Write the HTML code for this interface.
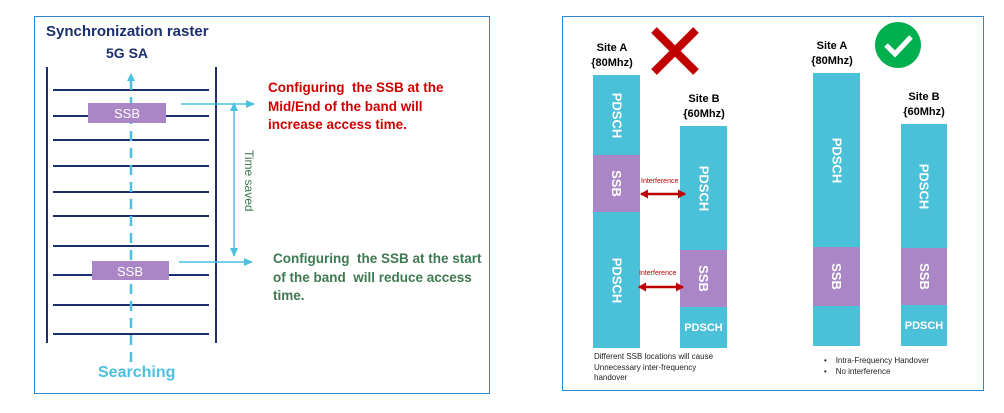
<!DOCTYPE html>
<html><head><style>
body{margin:0;width:1004px;height:413px;background:#fff;position:relative;font-family:"Liberation Sans",sans-serif;overflow:hidden}
.a{position:absolute}
.b{font-weight:bold}
.col{position:absolute;background:#4bc0d9}
.seg{position:absolute;left:0;right:0;color:#fff;font-weight:bold;font-size:13px;display:flex;align-items:center;justify-content:center}
.v span{transform:rotate(90deg);white-space:nowrap;display:block}
.ssb{background:#ab86c6}
</style></head><body>
<div class="a" style="left:34px;top:16px;width:454px;height:376px;border:1.5px solid #2e86d0"></div>
<div class="a" style="left:562px;top:16px;width:420px;height:373px;border:1.5px solid #2e86d0"></div>

<div class="a b" style="left:582px;top:41px;width:60px;text-align:center;font-size:11px;line-height:15px">Site A<br>{80Mhz)</div>
<div class="a b" style="left:674px;top:92px;width:60px;text-align:center;font-size:11px;line-height:15px">Site B<br>{60Mhz)</div>
<div class="a b" style="left:802px;top:39px;width:60px;text-align:center;font-size:11px;line-height:15px">Site A<br>{80Mhz)</div>
<div class="a b" style="left:894px;top:90px;width:60px;text-align:center;font-size:11px;line-height:15px">Site B<br>{60Mhz)</div>

<div class="col" style="left:593px;top:75px;width:47px;height:273px">
<div class="seg v" style="top:0;height:80px"><span>PDSCH</span></div>
<div class="seg v ssb" style="top:80px;height:57px"><span>SSB</span></div>
<div class="seg v" style="top:137px;height:136px"><span>PDSCH</span></div></div>
<div class="col" style="left:680px;top:126px;width:47px;height:222px">
<div class="seg v" style="top:0;height:124px"><span>PDSCH</span></div>
<div class="seg v ssb" style="top:124px;height:57px"><span>SSB</span></div>
<div class="seg" style="top:181px;height:41px;font-size:11px">PDSCH</div></div>
<div class="col" style="left:813px;top:73px;width:47px;height:273px">
<div class="seg v" style="top:0;height:174px"><span>PDSCH</span></div>
<div class="seg v ssb" style="top:174px;height:59px"><span>SSB</span></div></div>
<div class="col" style="left:901px;top:124px;width:46px;height:222px">
<div class="seg v" style="top:0;height:124px"><span>PDSCH</span></div>
<div class="seg v ssb" style="top:124px;height:57px"><span>SSB</span></div>
<div class="seg" style="top:181px;height:41px;font-size:11px">PDSCH</div></div>

<svg class="a" style="left:0;top:0" width="1004" height="413">
<defs><marker id="ar" markerUnits="userSpaceOnUse" markerWidth="9" markerHeight="8" refX="8" refY="4" orient="auto"><path d="M0,0L9,4L0,8z" fill="#4bc0e0"/></marker>
<marker id="ar2" markerUnits="userSpaceOnUse" markerWidth="9" markerHeight="8" refX="8" refY="4" orient="auto-start-reverse"><path d="M0,0L9,4L0,8z" fill="#4bc0e0"/></marker>
<marker id="rr" markerUnits="userSpaceOnUse" markerWidth="8" markerHeight="9" refX="7" refY="4.5" orient="auto-start-reverse"><path d="M0,0L8,4.5L0,9z" fill="#c00000"/></marker></defs>
<g stroke="#1b2f6e" stroke-width="2">
<line x1="47" y1="67" x2="47" y2="343"/><line x1="216" y1="67" x2="216" y2="343"/>
<line x1="53" y1="90" x2="209" y2="90"/><line x1="53" y1="116" x2="209" y2="116"/><line x1="53" y1="140" x2="209" y2="140"/><line x1="53" y1="166" x2="209" y2="166"/><line x1="53" y1="192" x2="209" y2="192"/><line x1="53" y1="216" x2="209" y2="216"/><line x1="53" y1="246" x2="209" y2="246"/><line x1="53" y1="275" x2="209" y2="275"/><line x1="53" y1="305" x2="209" y2="305"/><line x1="53" y1="334" x2="209" y2="334"/>
</g>
<line x1="131" y1="80" x2="131" y2="362" stroke="#4bc0e0" stroke-width="2.5" stroke-dasharray="10,7"/>
<path d="M127,81L131,73L135,81z" fill="#4bc0e0"/>
<rect x="88" y="103" width="78" height="20" fill="#ab86c6"/><rect x="92" y="261" width="77" height="19" fill="#ab86c6"/>
<text x="127" y="118" fill="#fff" font-size="13" text-anchor="middle">SSB</text>
<text x="130" y="276" fill="#fff" font-size="13" text-anchor="middle">SSB</text>
<line x1="181" y1="104" x2="254" y2="104" stroke="#4bc0e0" stroke-width="1.5" marker-end="url(#ar)"/>
<line x1="179" y1="262" x2="252" y2="262" stroke="#4bc0e0" stroke-width="1.5" marker-end="url(#ar)"/>
<line x1="234" y1="103" x2="234" y2="256" stroke="#4bc0e0" stroke-width="1.5" marker-start="url(#ar2)" marker-end="url(#ar2)"/>
<text transform="translate(245,150) rotate(90)" fill="#3d7a52" font-size="12">Time saved</text>
<path d="M654,30L696,72M696,30L654,72" stroke="#c00000" stroke-width="8"/>
<circle cx="898" cy="45" r="23" fill="#00b04f"/>
<path d="M886,45L895,54L911,37" stroke="#fff" stroke-width="5" fill="none"/>
<line x1="641" y1="194" x2="685" y2="194" stroke="#c00000" stroke-width="2.5" marker-start="url(#rr)" marker-end="url(#rr)"/>
<line x1="639" y1="287" x2="683" y2="287" stroke="#c00000" stroke-width="2.5" marker-start="url(#rr)" marker-end="url(#rr)"/>
<text x="641" y="183" fill="#c00000" font-size="7">Interference</text>
<text x="639" y="275" fill="#c00000" font-size="7">Interference</text>
</svg>
<div class="a b" style="left:46px;top:23px;font-size:15px;color:#1b2f6e">Synchronization raster</div>
<div class="a b" style="left:106px;top:45px;font-size:14px;color:#1b2f6e">5G SA</div>
<div class="a b" style="left:98px;top:364px;font-size:16px;color:#4bc0e0">Searching</div>
<div class="a b" style="left:268px;top:79px;font-size:13.5px;line-height:18.5px;color:#d00000">Configuring&nbsp; the SSB at the<br>Mid/End of the band will<br>increase access time.</div>
<div class="a b" style="left:273px;top:250px;font-size:13.5px;line-height:18.5px;color:#3d7a52">Configuring&nbsp; the SSB at the start<br>of the band&nbsp; will reduce access<br>time.</div>

<div class="a" style="left:594px;top:352px;font-size:8px;line-height:10.5px;color:#222">Different SSB locations will cause<br>Unnecessary inter-frequency<br>handover</div>
<div class="a" style="left:824px;top:356px;font-size:8px;line-height:10.5px;color:#222">•&nbsp;&nbsp;&nbsp; Intra-Frequency Handover<br>•&nbsp;&nbsp;&nbsp; No interference</div>
</body></html>
